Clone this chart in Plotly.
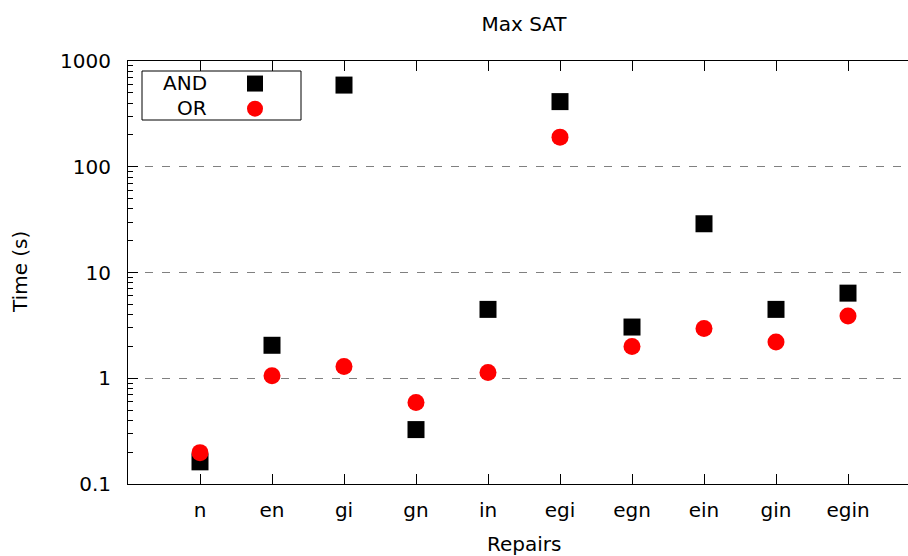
import plotly.graph_objects as go

categories = ["n", "en", "gi", "gn", "in", "egi", "egn", "ein", "gin", "egin"]
and_times = [0.162, 2.05, 592, 0.327, 4.48, 413, 3.05, 28.9, 4.48, 6.38]
or_times = [0.198, 1.056, 1.29, 0.590, 1.135, 190.6, 2.00, 2.96, 2.20, 3.88]
y_tickvals = [0.1, 1, 10, 100, 1000]
y_ticktext = ["0.1", "1", "10", "100", "1000"]
y_minor_tickvals = [m * d for d in (0.1, 1, 10, 100) for m in range(2, 10)]

FONT = "DejaVu Sans"
W, H = 908, 556
ML, MR, MT, MB = 128, 0, 61, 72
PW, PH = W - ML - MR, H - MT - MB

def px_x(x):
    return (x - ML) / PW

def px_y(y):
    return (H - MB - y) / PH

fig = go.Figure()
fig.add_trace(go.Scatter(
    x=categories, y=and_times, mode="markers", name="",
    marker=dict(symbol="square", size=17, color="black", line=dict(width=0)),
))
fig.add_trace(go.Scatter(
    x=categories, y=or_times, mode="markers", name=" ",
    marker=dict(symbol="circle", size=17, color="#ff0000", line=dict(width=0)),
))

fig.update_layout(
    width=W, height=H,
    margin=dict(l=ML, r=MR, t=MT, b=MB),
    plot_bgcolor="white", paper_bgcolor="white",
    font=dict(family=FONT, size=20, color="black"),
    showlegend=True,
    legend=dict(
        x=px_x(235), y=px_y(66), xanchor="left", yanchor="top",
        bgcolor="rgba(0,0,0,0)", borderwidth=0, tracegroupgap=0,
        font=dict(size=17), itemwidth=30,
    ),
    title=dict(text="Max SAT", x=524 / W, xref="container", xanchor="center",
               y=1 - 23.5 / H, yref="container", yanchor="middle",
               font=dict(size=20, family=FONT)),
    xaxis=dict(
        type="category", categoryorder="array", categoryarray=categories,
        range=[-1, -1 + PW / 72.0],
        showline=True, linecolor="black", linewidth=1, mirror="ticks",
        ticks="inside", ticklen=10, tickcolor="black", tickwidth=1,
        showgrid=False, zeroline=False,
        tickfont=dict(size=20, family=FONT),
        ticklabelstandoff=8,
    ),
    yaxis=dict(
        type="log", range=[-1, 3],
        tickvals=y_tickvals, ticktext=y_ticktext,
        showline=True, linecolor="black", linewidth=1, mirror=False,
        ticks="inside", ticklen=10, tickcolor="black", tickwidth=1,
        showgrid=True, gridcolor="#808080", gridwidth=1, griddash="8px,9px",
        zeroline=False,
        tickfont=dict(size=20, family=FONT),
        ticklabelstandoff=12,
        minor=dict(tickvals=y_minor_tickvals, ticks="inside", ticklen=5,
                   tickcolor="black", tickwidth=1, showgrid=False),
    ),
)

# legend frame
fig.add_shape(type="rect", xref="paper", yref="paper",
              x0=px_x(142), x1=px_x(301), y0=px_y(120), y1=px_y(71),
              line=dict(color="black", width=1), fillcolor="rgba(0,0,0,0)")
fig.add_annotation(text="AND", xref="paper", yref="paper", x=px_x(209), y=px_y(83),
                   xanchor="right", yanchor="middle", showarrow=False,
                   font=dict(size=20, family=FONT))
fig.add_annotation(text="OR", xref="paper", yref="paper", x=px_x(209), y=px_y(108),
                   xanchor="right", yanchor="middle", showarrow=False,
                   font=dict(size=20, family=FONT))
# axis titles
fig.add_annotation(text="Repairs", xref="paper", yref="paper", x=px_x(524), y=px_y(544),
                   xanchor="center", yanchor="middle", showarrow=False,
                   font=dict(size=20, family=FONT))
fig.add_annotation(text="Time (s)", xref="paper", yref="paper", x=px_x(20), y=px_y(272),
                   xanchor="center", yanchor="middle", showarrow=False, textangle=-90,
                   font=dict(size=20, family=FONT))

fig.write_html("out.html")
